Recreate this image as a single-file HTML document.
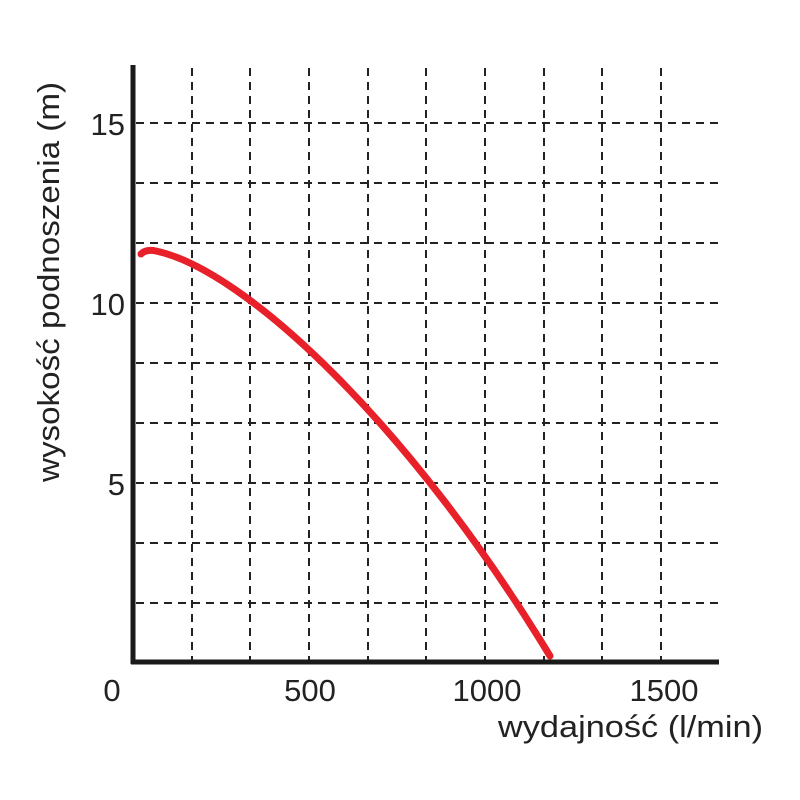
<!DOCTYPE html>
<html><head><style>body{margin:0;background:#fff}</style></head><body>
<svg width="800" height="800" xmlns="http://www.w3.org/2000/svg" style="display:block">
<g stroke="#222" stroke-width="2" stroke-dasharray="8,6" fill="none">
<line x1="136" y1="123" x2="722" y2="123"/><line x1="136" y1="183" x2="722" y2="183"/><line x1="136" y1="243" x2="722" y2="243"/><line x1="136" y1="303" x2="722" y2="303"/><line x1="136" y1="363" x2="722" y2="363"/><line x1="136" y1="423" x2="722" y2="423"/><line x1="136" y1="483" x2="722" y2="483"/><line x1="136" y1="543" x2="722" y2="543"/><line x1="136" y1="603" x2="722" y2="603"/>
<line x1="192" y1="68" x2="192" y2="660"/><line x1="250" y1="68" x2="250" y2="660"/><line x1="309" y1="68" x2="309" y2="660"/><line x1="368" y1="68" x2="368" y2="660"/><line x1="426" y1="68" x2="426" y2="660"/><line x1="485" y1="68" x2="485" y2="660"/><line x1="544" y1="68" x2="544" y2="660"/><line x1="602" y1="68" x2="602" y2="660"/><line x1="661" y1="68" x2="661" y2="660"/>
</g>
<line x1="133" y1="65" x2="133" y2="664" stroke="#1a1a1a" stroke-width="5"/>
<line x1="131" y1="662" x2="719" y2="662" stroke="#1a1a1a" stroke-width="5"/>
<path d="M141,254 Q146,249 156,251 C245,270 410,425 550,656" stroke="#e8202a" stroke-width="7" fill="none" stroke-linecap="round"/>
<g font-family="Liberation Sans, sans-serif" font-size="31" fill="#222">
<text x="125" y="135" text-anchor="end">15</text>
<text x="125" y="315" text-anchor="end">10</text>
<text x="125" y="495" text-anchor="end">5</text>
<text x="112" y="701" text-anchor="middle">0</text>
<text x="310" y="701" text-anchor="middle">500</text>
<text x="487" y="701" text-anchor="middle">1000</text>
<text x="664" y="701" text-anchor="middle">1500</text>
<text x="763" y="737" text-anchor="end" textLength="265" lengthAdjust="spacingAndGlyphs">wydajność (l/min)</text>
<text transform="translate(59,282) rotate(-90)" text-anchor="middle" textLength="400" lengthAdjust="spacingAndGlyphs">wysokość podnoszenia (m)</text>
</g>
</svg>
</body></html>
